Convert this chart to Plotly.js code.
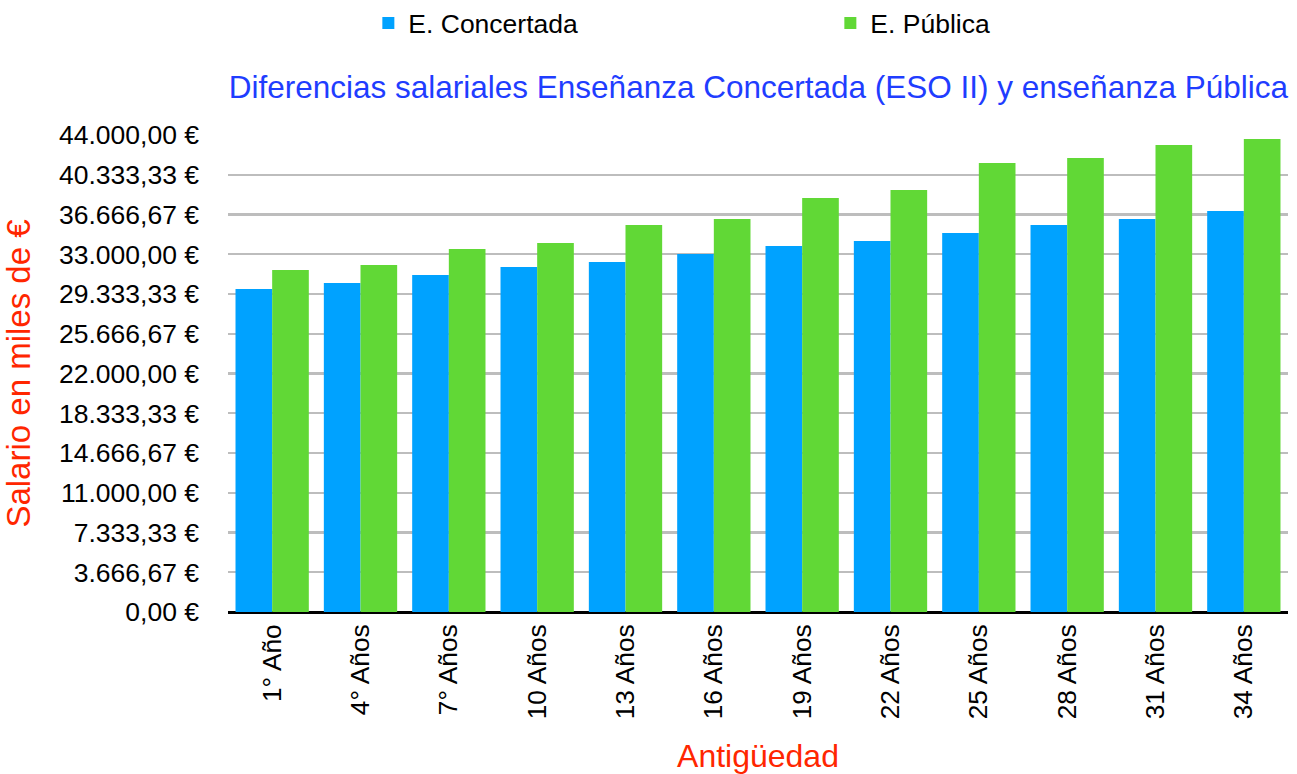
<!DOCTYPE html>
<html>
<head>
<meta charset="utf-8">
<script src="https://cdn.plot.ly/plotly-3.0.1.min.js"></script>
<style>html,body{margin:0;padding:0;background:#fff;}#chart{width:1297px;height:774px;}</style>
</head>
<body>
<div id="chart"></div>
<script>
const categories = ["1° Año","4° Años","7° Años","10 Años","13 Años","16 Años","19 Años","22 Años","25 Años","28 Años","31 Años","34 Años"];
const concertada = [29803,30356,31093,31831,32292,33029,33767,34228,34965,35702,36256,36993];
const publica = [31555,32015,33490,34043,35702,36256,38192,38929,41418,41878,43077,43630];
const tickValues = [0,3666.67,7333.33,11000,14666.67,18333.33,22000,25666.67,29333.33,33000,36666.67,40333.33,44000];
const tickLabels = ["0,00 €","3.666,67 €","7.333,33 €","11.000,00 €","14.666,67 €","18.333,33 €","22.000,00 €","25.666,67 €","29.333,33 €","33.000,00 €","36.666,67 €","40.333,33 €","44.000,00 €"];

const FONT = "Liberation Sans, Arial, Helvetica, sans-serif";
const data = [
  {type:"bar", name:"E. Concertada", x:categories, y:concertada, marker:{color:"#00a2ff"}, hoverinfo:"y"},
  {type:"bar", name:"E. Pública", x:categories, y:publica, marker:{color:"#61d836"}, hoverinfo:"y"}
];
const layout = {
  width:1297, height:774,
  margin:{l:228, r:9, t:135, b:162},
  paper_bgcolor:"#fff", plot_bgcolor:"#fff",
  font:{family:FONT, size:26, color:"#000"},
  barmode:"group", bargap:0.17, bargroupgap:0,
  title:{text:"Diferencias salariales Enseñanza Concertada (ESO II) y enseñanza Pública",
    font:{family:FONT, size:31.5, color:"#1f3dff"}, xref:"paper", x:1, xanchor:"right", yref:"container", y:0.887, yanchor:"middle"},
  legend:{orientation:"h", x:0.284, xref:"container", xanchor:"left", y:0.97, yref:"container", yanchor:"middle",
    font:{family:FONT, size:26.5, color:"#000"}, entrywidth:417, entrywidthmode:"pixels", itemsizing:"constant", traceorder:"normal"},
  xaxis:{type:"category", tickangle:-90, tickfont:{family:FONT, size:26.3}, showgrid:false, showline:false, ticks:"", zeroline:false,
    ticklabelstandoff:6,
    title:{text:"Antigüedad", font:{family:FONT, size:32, color:"#ff2600"}, standoff:28}},
  yaxis:{range:[0,44000], tickvals:tickValues, ticktext:tickLabels, showgrid:true, gridcolor:"#bdbdbd", gridwidth:2.2,
    zeroline:true, zerolinecolor:"#000", zerolinewidth:3, showline:false, ticks:"", ticklabelstandoff:28,
    tickfont:{family:FONT, size:26.5},
    title:{text:"Salario en miles de €", font:{family:FONT, size:33, color:"#ff2600"}, standoff:18}},
  showlegend:true
};
Plotly.newPlot("chart", data, layout, {displayModeBar:false, staticPlot:true});
</script>
</body>
</html>
